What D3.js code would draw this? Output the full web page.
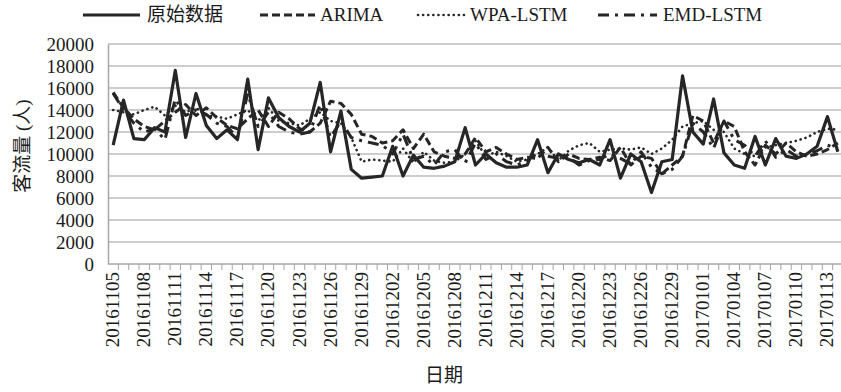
<!DOCTYPE html>
<html>
<head>
<meta charset="utf-8">
<script src="https://cdn.jsdelivr.net/npm/d3@7"></script>
<style>
body { margin: 0; background: #fff; }
svg text { font-family: "Liberation Serif", "Noto Sans CJK SC", serif; fill: #1a1a1a; }
</style>
</head>
<body>
<div id="chart"></div>
<script>
// dates 20161105 .. 20170114, one per day
var dates = ["20161105","20161106","20161107","20161108","20161109","20161110","20161111","20161112","20161113","20161114",
    "20161115","20161116","20161117","20161118","20161119","20161120","20161121","20161122","20161123","20161124",
    "20161125","20161126","20161127","20161128","20161129","20161130","20161201","20161202","20161203","20161204",
    "20161205","20161206","20161207","20161208","20161209","20161210","20161211","20161212","20161213","20161214",
    "20161215","20161216","20161217","20161218","20161219","20161220","20161221","20161222","20161223","20161224",
    "20161225","20161226","20161227","20161228","20161229","20161230","20161231","20170101","20170102","20170103",
    "20170104","20170105","20170106","20170107","20170108","20170109","20170110","20170111","20170112","20170113",
    "20170114"];

var original = [10800,14900,11400,11300,12400,12000,17600,11500,15500,12600,
    11400,12200,11300,16800,10400,15100,13300,12500,12000,12800,
    16500,10200,13900,8600,7800,7900,8000,10700,8000,9900,
    8800,8700,8900,9300,12400,9000,10000,9200,8800,8800,
    9000,11300,8300,10000,9500,9200,9500,9000,11300,7800,
    10000,9300,6500,9300,9500,17100,12000,10900,15000,10100,
    9000,8700,11600,9000,11400,9800,9600,10000,10700,13400,
    10200];

var arima = [15600,14200,13200,12500,12200,13000,13800,14500,13500,14200,
    13300,12600,12300,13200,14000,12500,13800,13200,12300,12000,
    12800,14800,14600,13600,11800,11600,11000,11200,12200,10500,
    11800,10200,9800,9600,10000,11500,10200,10600,10000,9500,
    9700,9600,10600,9300,10000,9600,9500,9700,9400,10600,
    9000,9800,9600,8200,9000,9800,13500,13000,11000,13000,
    12500,10200,9000,10800,10000,11000,10200,9800,10000,10400,
    11000];

var wpaLstm = [14000,13800,13600,14000,14300,13500,14400,13800,14200,13500,
    13400,13200,13600,14000,13000,14200,13000,12800,12600,13200,
    13800,13000,12800,11500,9300,9500,9400,9300,10500,9200,
    10200,9400,9200,9300,10000,11200,9800,10200,9800,9300,
    9500,10000,10600,9400,10300,10800,11000,10200,10400,10500,
    10400,10600,10000,10500,11300,12500,12800,13000,12200,12000,
    10500,10000,9800,10600,10800,11000,11200,11500,12000,12300,
    12200];

var emdLstm = [15500,14000,12800,12000,12300,11300,15000,13500,14000,13600,
    12800,12500,11500,15500,12500,13800,12500,12000,11800,12000,
    14500,11500,13000,11500,11200,11000,10800,10000,11800,9500,
    9800,9000,10200,10400,9200,11000,9500,10000,9300,9000,
    9400,10200,9800,9600,9700,9000,9400,9500,10000,9600,
    9100,10200,8800,8200,8600,9800,12800,12000,10500,13000,
    11300,10800,9800,11200,9700,10400,9800,9900,10300,10800,
    10500];

var yTicks = [0,2000,4000,6000,8000,10000,12000,14000,16000,18000,20000];

var seriesNames = ["原始数据", "ARIMA", "WPA-LSTM", "EMD-LSTM"];

var width = 841, height = 392;
var margin = { top: 44, bottom: 128, left: 108, right: -2 };
var fontSize = 19;

var svg = d3.select('#chart')
    .append('svg')
    .attr('width', width)
    .attr('height', height);

svg.append('rect').attr('width', width).attr('height', height).attr('fill', '#fff');

var x_scale = d3.scaleBand()
    .domain(dates)
    .range([margin.left, width - margin.right])
    .padding(0);

var y_scale = d3.scaleLinear()
    .domain([0, 20000])
    .range([height - margin.bottom, margin.top]);

var xc = function (d) { return x_scale(d) + x_scale.bandwidth() / 2; };

// gridlines
svg.append('g')
    .selectAll('line')
    .data(yTicks.slice(1))
    .enter()
    .append('line')
    .attr('x1', margin.left)
    .attr('x2', width)
    .attr('y1', function (d) { return y_scale(d); })
    .attr('y2', function (d) { return y_scale(d); })
    .attr('stroke', '#bdbdbd')
    .attr('stroke-width', 1.5);

// y axis
var y_axis = d3.axisLeft(y_scale).tickValues(yTicks).tickFormat(d3.format('d')).tickSize(0).tickPadding(14);
var yAxis = svg.append('g')
    .attr('transform', 'translate(' + margin.left + ',0)')
    .call(y_axis);
yAxis.select('.domain').attr('stroke', '#a6a6a6').attr('stroke-width', 1.5);
yAxis.selectAll('text')
    .attr('font-size', fontSize)
    .style('font-family', '"Liberation Serif", serif')
    .attr('fill', '#1a1a1a');

// x axis: ticks at category boundaries, labels every third day
var xAxis = svg.append('g')
    .attr('transform', 'translate(0,' + y_scale(0) + ')');
xAxis.append('line')
    .attr('x1', margin.left).attr('x2', width)
    .attr('stroke', '#a6a6a6').attr('stroke-width', 1.5);
xAxis.selectAll('.tk')
    .data(dates)
    .enter()
    .append('line')
    .attr('class', 'tk')
    .attr('x1', function (d) { return x_scale(d) + x_scale.bandwidth(); })
    .attr('x2', function (d) { return x_scale(d) + x_scale.bandwidth(); })
    .attr('y1', 0).attr('y2', 6)
    .attr('stroke', '#a6a6a6').attr('stroke-width', 1);
xAxis.selectAll('.lbl')
    .data(dates.filter(function (d, i) { return i % 3 === 0; }))
    .enter()
    .append('text')
    .attr('class', 'lbl')
    .attr('transform', function (d) { return 'translate(' + (xc(d) + 6) + ',8) rotate(-90)'; })
    .attr('text-anchor', 'end')
    .attr('font-size', fontSize)
    .text(function (d) { return d; });

// axis titles
svg.append('text')
    .attr('transform', 'translate(29,146) rotate(-90)')
    .attr('text-anchor', 'middle')
    .attr('font-size', fontSize)
    .attr('opacity', 0.99)
    .text('客流量 (人)');
svg.append('text')
    .attr('x', 444)
    .attr('y', 382)
    .attr('text-anchor', 'middle')
    .attr('font-size', fontSize)
    .text('日期');

// series
var styles = [
    { data: original, width: 3.2, dash: null, cap: 'butt' },
    { data: arima, width: 3, dash: '8,4', cap: 'butt' },
    { data: wpaLstm, width: 2.6, dash: '0.1,5', cap: 'round' },
    { data: emdLstm, width: 3, dash: '11,6,3,6', cap: 'butt' }
];

var line = d3.line()
    .x(function (d, i) { return xc(dates[i]); })
    .y(function (d) { return y_scale(d); });

var plot = svg.append('g');
styles.slice().reverse().forEach(function (s) {
    plot.append('path')
        .datum(s.data)
        .attr('d', line)
        .attr('fill', 'none')
        .attr('stroke', '#262626')
        .attr('stroke-width', s.width)
        .attr('stroke-linejoin', 'round')
        .attr('stroke-linecap', s.cap)
        .attr('stroke-dasharray', s.dash);
});

// legend
var legendX = [83, 260, 418, 598];
var legendLen = [57, 55, 46, 59];
var legendText = [147, 320, 470, 663];
var legend = svg.append('g').attr('transform', 'translate(0,15)');
seriesNames.forEach(function (name, i) {
    var s = styles[i];
    legend.append('line')
        .attr('x1', legendX[i]).attr('x2', legendX[i] + legendLen[i])
        .attr('y1', 0).attr('y2', 0)
        .attr('stroke', '#262626')
        .attr('stroke-width', s.width)
        .attr('stroke-linecap', s.cap)
        .attr('stroke-dasharray', s.dash);
    legend.append('text')
        .attr('x', legendText[i])
        .attr('y', 6)
        .attr('font-size', fontSize)
        .text(name);
});
</script>
</body>
</html>
